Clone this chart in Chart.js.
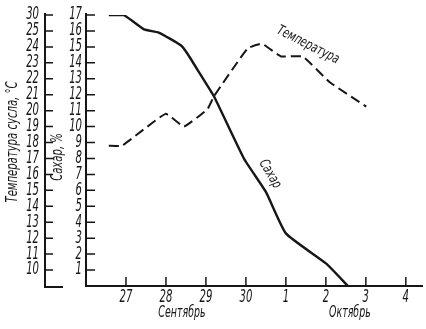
<!DOCTYPE html>
<html>
<head>
<meta charset="utf-8">
<script src="https://cdn.jsdelivr.net/npm/chart.js@4"></script>
<style>
  html, body { margin: 0; padding: 0; background: #fff; }
  #wrap { width: 426px; height: 329px; }
</style>
</head>
<body>
<div id="wrap"><canvas id="grafico"></canvas></div>
<script>
// дни от 26 сентября: 1 = 27, ..., 5 = 1 октября
const dayTicks = [1, 2, 3, 4, 5, 6, 7, 8];
const dayLabels = ['27', '28', '29', '30', '1', '2', '3', '4'];

const sugarTicks = [1, 2, 3, 4, 5, 6, 7, 8, 9, 10, 11, 12, 13, 14, 15, 16, 17];
const tempTicks = [10, 11, 12, 13, 14, 15, 16, 17, 18, 19, 20, 21, 22, 23, 24, 25, 26];
const tempTickLabels = ['10', '11', '12', '13', '14', '15', '16', '17', '18', '19', '20', '21', '22', '23', '24', '25', '30'];

const sugarDays = [0.57, 0.94, 1.45, 1.82, 2.37, 2.53, 2.83, 3.2, 3.95, 4.5, 5.0, 6.01, 6.55];
const sugarValues = [17.0, 17.0, 16.1, 15.9, 15.1, 14.6, 13.4, 11.9, 8.0, 5.9, 3.3, 1.4, 0];

const tempDays = [0.57, 0.9, 1.99, 2.45, 3.04, 3.2, 4.04, 4.4, 4.88, 5.42, 6.09, 7.01];
const tempValues = [17.8, 17.8, 19.8, 19.0, 20.1, 20.9, 23.9, 24.2, 23.4, 23.4, 21.8, 20.25];

const INK = '#161616';
const FONT_FAMILY = "'DejaVu Sans Condensed', 'Liberation Sans Narrow', 'DejaVu Sans', sans-serif";

// узкий курсив: сжимаем текст по горизонтали
function drawText(ctx, text, x, y, opts = {}) {
  const { size = 14, angle = 0, align = 'center', squeeze = 0.7 } = opts;
  ctx.save();
  ctx.translate(x, y);
  ctx.rotate(angle);
  ctx.scale(squeeze, 1);
  ctx.font = `italic ${size}px ${FONT_FAMILY}`;
  ctx.textAlign = align;
  ctx.textBaseline = 'middle';
  ctx.fillText(text, 0, 0);
  ctx.restore();
}

// оси, засечки и подписи рисуем сами
const axesPlugin = {
  id: 'axesPlugin',
  afterDraw(chart) {
    const { ctx, chartArea } = chart;
    const x = chart.scales.x;
    const ySugar = chart.scales.ySugar;
    const yTemp = chart.scales.yTemp;
    const tempLineX = yTemp.right;
    ctx.save();
    ctx.strokeStyle = INK;
    ctx.fillStyle = INK;
    ctx.lineWidth = 2;
    ctx.lineCap = 'butt';

    ctx.beginPath();
    ctx.moveTo(chartArea.left, chartArea.top - 2);
    ctx.lineTo(chartArea.left, chartArea.bottom);
    ctx.lineTo(chartArea.right, chartArea.bottom);
    ctx.moveTo(tempLineX, chartArea.top - 2);
    ctx.lineTo(tempLineX, chartArea.bottom + 1);
    ctx.lineTo(tempLineX + 18, chartArea.bottom + 1);
    ctx.stroke();

    ctx.lineWidth = 1.5;
    ctx.beginPath();
    sugarTicks.forEach(v => {
      const py = ySugar.getPixelForValue(v);
      ctx.moveTo(chartArea.left, py);
      ctx.lineTo(chartArea.left + 9, py);
    });
    tempTicks.forEach(v => {
      const py = yTemp.getPixelForValue(v);
      ctx.moveTo(tempLineX, py);
      ctx.lineTo(tempLineX + 8, py);
    });
    dayTicks.forEach(v => {
      const px = x.getPixelForValue(v);
      ctx.moveTo(px, chartArea.bottom);
      ctx.lineTo(px, chartArea.bottom - 9);
    });
    ctx.stroke();

    sugarTicks.forEach(v => {
      drawText(ctx, String(v), chartArea.left - 4, ySugar.getPixelForValue(v), { size: 17, align: 'right', squeeze: 0.66 });
    });
    tempTicks.forEach((v, i) => {
      drawText(ctx, tempTickLabels[i], tempLineX - 6, yTemp.getPixelForValue(v), { size: 17, align: 'right', squeeze: 0.66 });
    });
    dayTicks.forEach((v, i) => {
      drawText(ctx, dayLabels[i], x.getPixelForValue(v), chartArea.bottom + 12, { size: 17, squeeze: 0.66 });
    });

    drawText(ctx, 'Сентябрь', x.getPixelForValue(2.4), chartArea.bottom + 27, { size: 15 });
    drawText(ctx, 'Октябрь', x.getPixelForValue(6.6), chartArea.bottom + 27, { size: 15 });

    drawText(ctx, 'Температура сусла, °С', 13, 142, { size: 16, angle: -Math.PI / 2 });
    drawText(ctx, 'Сахар, %', 58, 157, { size: 16, angle: -Math.PI / 2 });

    drawText(ctx, 'Температура', 308, 45, { size: 14, angle: 27 * Math.PI / 180, squeeze: 0.78 });
    drawText(ctx, 'Сахар', 270, 174, { size: 14, angle: 60 * Math.PI / 180, squeeze: 0.78 });

    ctx.restore();
  }
};

const ctx = document.getElementById('grafico').getContext('2d');
const chart = new Chart(ctx, {
  type: 'line',
  data: {
    datasets: [
      {
        label: 'Сахар',
        data: sugarDays.map((d, i) => ({ x: d, y: sugarValues[i] })),
        yAxisID: 'ySugar',
        borderColor: INK,
        borderWidth: 2.4,
        pointRadius: 0,
        tension: 0.15,
        fill: false
      },
      {
        label: 'Температура',
        data: tempDays.map((d, i) => ({ x: d, y: tempValues[i] })),
        yAxisID: 'yTemp',
        borderColor: INK,
        borderWidth: 2,
        borderDash: [10, 5],
        pointRadius: 0,
        tension: 0.1,
        fill: false
      }
    ]
  },
  options: {
    responsive: true,
    maintainAspectRatio: false,
    animation: false,
    layout: { padding: { top: 15, right: 3, left: 0, bottom: 0 } },
    plugins: {
      legend: { display: false },
      tooltip: { enabled: false }
    },
    scales: {
      x: {
        type: 'linear',
        min: 0,
        max: 8.43,
        afterFit: scale => { scale.height = 43; },
        grid: { display: false },
        border: { display: false },
        ticks: { display: false }
      },
      ySugar: {
        type: 'linear',
        position: 'left',
        weight: 1,
        min: 0,
        max: 17,
        afterFit: scale => { scale.width = 41; },
        grid: { display: false },
        border: { display: false },
        ticks: { display: false }
      },
      yTemp: {
        type: 'linear',
        position: 'left',
        weight: 2,
        min: 9,
        max: 26,
        afterFit: scale => { scale.width = 45; },
        grid: { display: false },
        border: { display: false },
        ticks: { display: false }
      }
    }
  },
  plugins: [axesPlugin]
});
</script>
</body>
</html>
